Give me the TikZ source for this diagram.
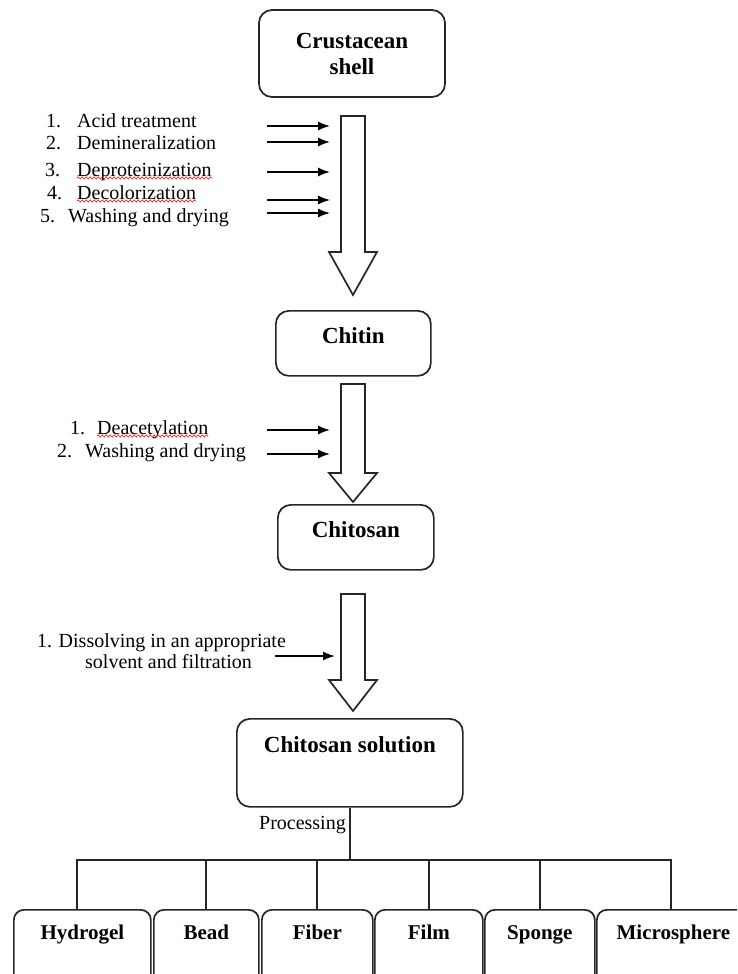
\documentclass[tikz,border=0pt]{standalone}
\usepackage{fontspec}
\setmainfont{Liberation Serif}
\usetikzlibrary{arrows.meta,decorations.pathmorphing}

\begin{document}
\begin{tikzpicture}[x=1pt, y=-1pt,
    stepbox/.style={draw=black!85, line width=1.7pt, rounded corners=13pt,
                    font=\fontsize{23}{26}\selectfont\bfseries, align=center, inner sep=0pt},
    formbox/.style={draw=black!85, line width=1.7pt, rounded corners=10pt,
                    font=\fontsize{21}{24}\selectfont\bfseries, inner sep=0pt,
                    anchor=north west, text height=30pt, text depth=100pt},
    item/.style={font=\fontsize{20}{22}\selectfont, inner sep=0pt, anchor=base west},
    arr/.style={-{Latex[length=12pt,width=9pt]}, line width=1.5pt},
    bigarr/.style={draw=black!85, line width=1.7pt, fill=white},
    bus/.style={draw=black!85, line width=1.8pt},
    spell/.style={red, line width=0.6pt, decorate,
                  decoration={snake, amplitude=1.1pt, segment length=4pt}}
]
    \useasboundingbox (0,0) rectangle (737,974);
    \clip (0,0) rectangle (737,974);

    % main column
    \node[stepbox, minimum width=186pt, minimum height=87pt] (shell) at (352,53.5) {Crustacean\\shell};
    \node[stepbox, anchor=north west, minimum width=155pt, text height=33pt, text depth=32pt] (chitin) at (275,310) {Chitin};
    \node[stepbox, anchor=north west, minimum width=156pt, text height=33pt, text depth=32pt] (chitosan) at (277,504) {Chitosan};
    \node[stepbox, anchor=north west, minimum width=226pt, text height=34pt, text depth=54pt] (sol) at (236,718) {Chitosan solution};

    % hollow arrows between the steps
    \foreach \top/\neck/\tip in {116/252/295, 384/473/502, 594/680/711}
        \draw[bigarr] (341,\top) -- (365,\top) -- (365,\neck) -- (377,\neck)
            -- (353,\tip) -- (329,\neck) -- (341,\neck) -- cycle;

    % treatments for chitin
    \node[item] (n1) at (46,127) {1.};
    \node[item] (a1) at (77,127) {Acid treatment};
    \node[item] (n2) at (46,149) {2.};
    \node[item] (a2) at (77,149) {Demineralization};
    \node[item] (n3) at (45,176) {3.};
    \node[item] (a3) at (77,176) {Deproteinization};
    \node[item] (n4) at (47,199) {4.};
    \node[item] (a4) at (77,199) {Decolorization};
    \node[item] (n5) at (40,222) {5.};
    \node[item] (a5) at (68,222) {Washing and drying};
    \foreach \y in {126,142,172,200,213}
        \draw[arr] (267,\y) -- (330,\y);

    % treatments for chitosan
    \node[item] (m1) at (70,434) {1.};
    \node[item] (b1) at (97,434) {Deacetylation};
    \node[item] (m2) at (57,457) {2.};
    \node[item] (b2) at (85,457) {Washing and drying};
    \foreach \y in {430,454}
        \draw[arr] (267,\y) -- (330,\y);

    % dissolving
    \node[item, anchor=base] (dis1) at (161.5,647) {1. Dissolving in an appropriate};
    \node[item, anchor=base] (dis2) at (168.5,668) {solvent and filtration};
    \draw[arr] (275,656) -- (335,656);

    % spelling marks
    \foreach \w in {a3,a4,b1}
        \draw[spell] ([yshift=-2pt]\w.base west) -- ([yshift=-2pt]\w.base east);

    % products
    \foreach \n/\x/\w/\t in {hyd/13/137/Hydrogel, bead/153/105/Bead, fiber/261/111/Fiber,
                             film/374/108/Film, sponge/484/110/Sponge, mic/596/153/Microsphere}
        \node[formbox, minimum width=\w pt] (\n) at (\x,909) {\t};

    \draw[bus] (sol.south) -- ++(0,52) coordinate (bus);
    \node[item, anchor=base east] (proc) at (346,829) {Processing};
    \draw[bus] ([xshift=-5.5pt]hyd.north) |- (bus) -| ([xshift=-2pt]mic.north);
    \foreach \n in {bead,fiber,film,sponge}
        \draw[bus] (\n.north) -- (\n.north |- bus);
\end{tikzpicture}
\end{document}
